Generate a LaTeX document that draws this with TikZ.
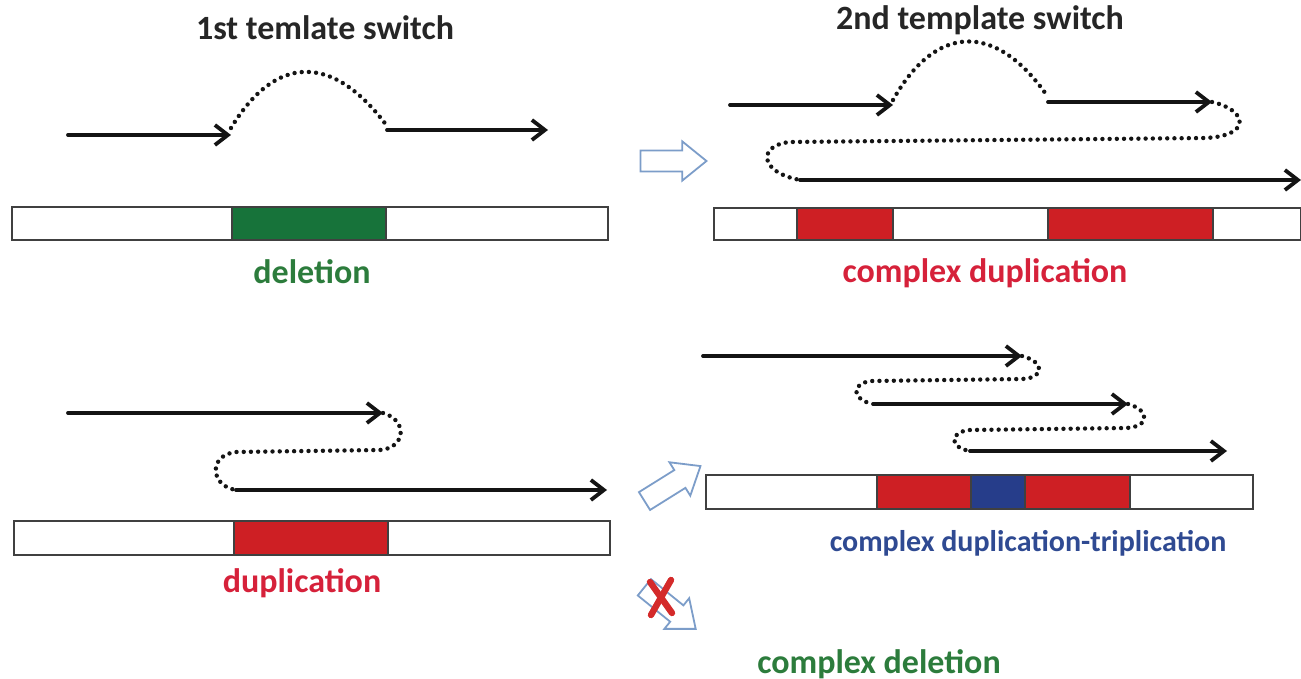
\documentclass[tikz,border=0pt]{standalone}
\usepackage{fontspec}
\setmainfont{Carlito}
\usetikzlibrary{arrows.meta,shapes.arrows}

\definecolor{strandcol}{HTML}{141414}
\definecolor{delgreen}{HTML}{17733A}
\definecolor{deltext}{HTML}{2C7C3C}
\definecolor{dupred}{HTML}{CE1F24}
\definecolor{duptext}{HTML}{D6213A}
\definecolor{tripblue}{HTML}{263D8A}
\definecolor{triptext}{HTML}{2F4A92}
\definecolor{stepblue}{HTML}{7C9DC9}
\definecolor{crossred}{HTML}{D42A2A}

\begin{document}
\begin{tikzpicture}[x=0.5pt,y=-0.5pt,
  strand/.style={line width=1.9pt, draw=strandcol, line cap=round,
    -{Straight Barb[length=6.5pt,width=10pt,line width=1.9pt]}},
  jump/.style={line width=2.2pt, draw=strandcol, line cap=round,
    dash pattern=on 0pt off 3.6pt},
  genome/.style={draw=black!75, line width=1.1pt, fill=white},
  seg/.style={draw=black!75, line width=1.1pt},
  caption/.style={font=\fontsize{17}{20}\selectfont\bfseries},
  heading/.style={font=\fontsize{17}{20}\selectfont\bfseries, text=black!85},
  stepper/.style={single arrow, draw=stepblue, line width=0.9pt, fill=white,
    minimum height=33pt, inner sep=4.8pt, single arrow head extend=4.6pt,
    single arrow tip angle=78},
  xmark/.style={draw=crossred, line width=3.2pt, line cap=round}
]
\useasboundingbox (0,0) rectangle (1301,679);

% ---------- headings ----------
\node[heading] (h1) at (325,28) {1st temlate switch};
\node[heading] (h2) at (980,20) {2nd template switch};

% ---------- deletion (top left) ----------
\coordinate (a1s) at (68,135);  \coordinate (a1e) at (231,135);
\coordinate (a2s) at (387,130); \coordinate (a2e) at (548,130);
\draw[strand] (a1s) -- (a1e);
\draw[jump] (231,128) .. controls (275,55) and (332,52) .. (387,126);
\draw[strand] (a2s) -- (a2e);
\draw[genome] (12,207) rectangle (608,240);
\draw[seg, fill=delgreen] (232,207) rectangle (386,240);
\node[caption, text=deltext] (l1) at (312,272) {deletion};

% ---------- complex duplication (top right) ----------
\coordinate (b1s) at (730,105);  \coordinate (b1e) at (893,105);
\coordinate (b2s) at (1048,102); \coordinate (b2e) at (1212,102);
\coordinate (b3s) at (800,180);  \coordinate (b3e) at (1301,180);
\draw[strand] (b1s) -- (b1e);
\draw[jump] (893,100) .. controls (935,25) and (995,20) .. (1048,97);
\draw[strand] (b2s) -- (b2e);
\draw[jump] (b2e) .. controls (1248,110) and (1252,136) .. (1205,138)
  -- (790,142) .. controls (758,145) and (758,172) .. (b3s);
\draw[strand] (b3s) -- (b3e);
\draw[genome] (714,208) rectangle (1301,240);
\draw[seg, fill=dupred] (797,208) rectangle (893,240);
\draw[seg, fill=dupred] (1048,208) rectangle (1213,240);
\node[caption, text=duptext] (l2) at (985,273) {complex duplication};

% ---------- duplication (bottom left) ----------
\coordinate (c1s) at (68,413);  \coordinate (c1e) at (383,413);
\coordinate (c2s) at (236,490); \coordinate (c2e) at (607,490);
\draw[strand] (c1s) -- (c1e);
\draw[jump] (c1e) .. controls (408,420) and (406,448) .. (380,450)
  -- (236,452) .. controls (208,455) and (210,486) .. (c2s);
\draw[strand] (c2s) -- (c2e);
\draw[genome] (14,521) rectangle (610,555);
\draw[seg, fill=dupred] (234,521) rectangle (388,555);
\node[caption, text=duptext] (l3) at (302,583) {duplication};

% ---------- complex duplication-triplication (bottom right) ----------
\coordinate (d1s) at (703,356);  \coordinate (d1e) at (1022,356);
\coordinate (d2s) at (873,404);  \coordinate (d2e) at (1128,404);
\coordinate (d3s) at (970,451);  \coordinate (d3e) at (1227,451);
\draw[strand] (d1s) -- (d1e);
\draw[jump] (d1e) .. controls (1045,362) and (1045,378) .. (1022,379)
  -- (872,381) .. controls (850,383) and (852,400) .. (d2s);
\draw[strand] (d2s) -- (d2e);
\draw[jump] (d2e) .. controls (1150,410) and (1150,427) .. (1126,428)
  -- (970,430) .. controls (948,432) and (950,448) .. (d3s);
\draw[strand] (d3s) -- (d3e);
\draw[genome] (706,475) rectangle (1253,509);
\draw[seg, fill=dupred] (877,475) rectangle (971,509);
\draw[seg, fill=tripblue] (971,475) rectangle (1025,509);
\draw[seg, fill=dupred] (1025,475) rectangle (1130,509);
\node[caption, text=triptext, font=\fontsize{15}{18}\selectfont\bfseries]
  (l4) at (1028,543) {complex duplication-triplication};

% ---------- complex deletion (blocked) ----------
\node[caption, text=deltext] (l5) at (879,664) {complex deletion};

% ---------- block arrows between stages ----------
\node[stepper] (s1) at (667,161) {};
\node[stepper, rotate=32] (s2) at (667,487) {};
\node[stepper, rotate=-39] (s3) at (665,604) {};
\draw[xmark] (650,582) -- (672,613);
\draw[xmark] (671,580) -- (651,615);
\end{tikzpicture}
\end{document}
